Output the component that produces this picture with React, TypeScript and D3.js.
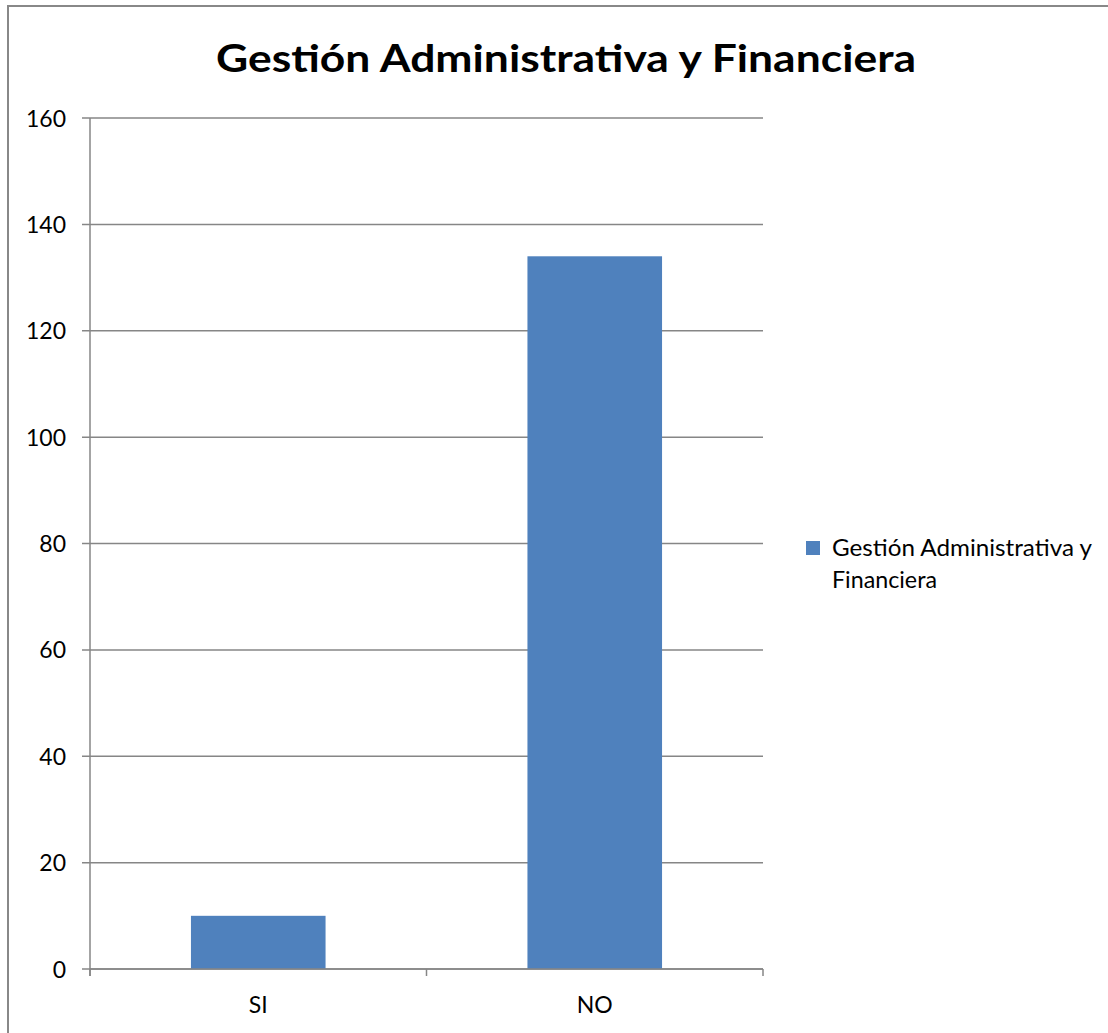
import React from "react";
import * as d3 from "d3";

const categories = ["SI", "NO"];
const values = [10, 134];
const yTicks = [0, 20, 40, 60, 80, 100, 120, 140, 160];
const title = "Gestión Administrativa y Financiera";
const legendLines = ["Gestión Administrativa y", "Financiera"];

export default function App() {
  const W = 1108, H = 1033;
  const left = 90, right = 763, top = 118, bottom = 969;
  const x = d3.scaleBand<string>().domain(categories).range([left, right]).paddingInner(0.6).paddingOuter(0.3);
  const y = d3.scaleLinear().domain([0, 160]).range([bottom, top]);
  const band = (right - left) / categories.length;
  const font = "Lato, 'Open Sans', sans-serif";
  const grid = "#868686";
  const legendWidths = [260, 105];
  return (
    <svg width={W} height={H} style={{ position: "absolute", left: 0, top: 0 }} fontFamily={font}>
      <rect x={0} y={0} width={W} height={H} fill="#fff" />
      <rect x={8} y={6} width={W + 10} height={H + 10} fill="#fff" stroke="#888" strokeWidth={2} />
      <text x={566} y={72} textAnchor="middle" fontSize={38} fontWeight="bold" fill="#000" textLength={700} lengthAdjust="spacingAndGlyphs">{title}</text>
      {yTicks.map((t) => (
        <g key={t}>
          <line x1={82} x2={right} y1={y(t)} y2={y(t)} stroke={grid} strokeWidth={1.5} />
          <text x={66} y={y(t) + 8.5} textAnchor="end" fontSize={23} fill="#000">{t}</text>
        </g>
      ))}
      <line x1={left} x2={left} y1={top} y2={bottom + 7} stroke={grid} strokeWidth={1.5} />
      {d3.range(categories.length + 1).map((i) => (
        <line key={i} x1={left + i * band} x2={left + i * band} y1={bottom} y2={bottom + 7} stroke={grid} strokeWidth={1.5} />
      ))}
      {categories.map((c, i) => (
        <g key={c}>
          <rect x={x(c)} y={y(values[i])} width={x.bandwidth()} height={bottom - y(values[i])} fill="#4F81BD" />
          <text x={(x(c) as number) + x.bandwidth() / 2} y={1013} textAnchor="middle" fontSize={23} fill="#000">{c}</text>
        </g>
      ))}
      <line x1={left} x2={right} y1={bottom} y2={bottom} stroke={grid} strokeWidth={1.5} />
      <rect x={806} y={541} width={14} height={14} fill="#4F81BD" />
      {legendLines.map((l, i) => (
        <text key={i} x={832} y={556 + i * 32} fontSize={23} fill="#000" textLength={legendWidths[i]} lengthAdjust="spacingAndGlyphs">{l}</text>
      ))}
    </svg>
  );
}
